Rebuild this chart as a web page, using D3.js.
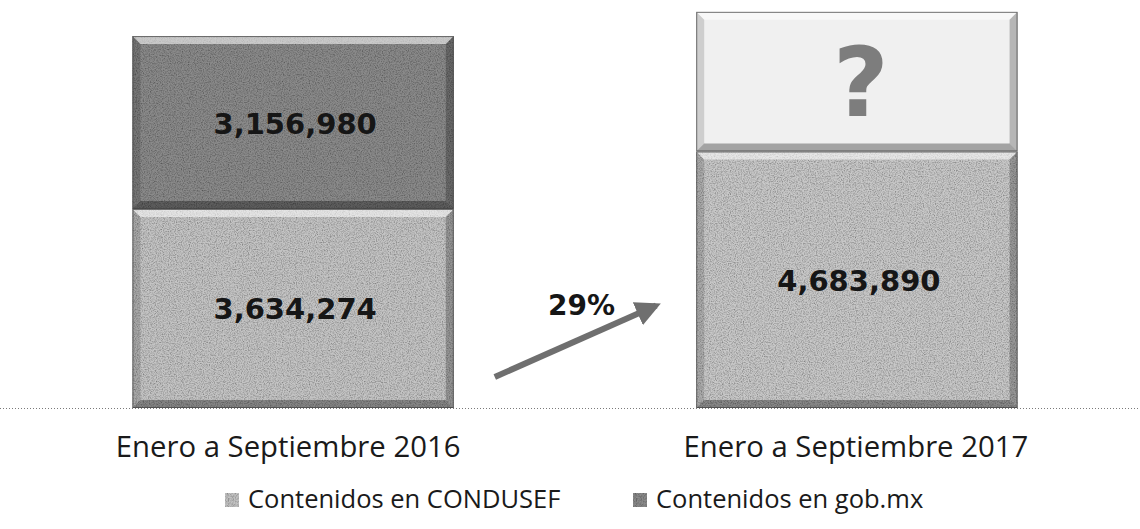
<!DOCTYPE html>
<html>
<head>
<meta charset="utf-8">
<script src="https://cdn.jsdelivr.net/npm/d3@7"></script>
<style>
  body { margin: 0; background: #fff; }
  svg { display: block; }
</style>
</head>
<body>
<div id="chart"></div>
<script>
// ---------------- data ----------------
var periods = ["Enero a Septiembre 2016", "Enero a Septiembre 2017"];
var series = ["Contenidos en CONDUSEF", "Contenidos en gob.mx"];
// bottom segment (CONDUSEF) and top segment (gob.mx); 2017 gob.mx is unknown ("?"), height estimated
var condusef = [3634274, 4683890];
var gobmx = [3156980, 2550000];
var segLabels = [["3,634,274", "4,683,890"], ["3,156,980", "?"]];
var growthLabel = "29%";

var fills = [["#c4c4c4", "#c8c8c8"], ["#8a8a8a", "#f0f0f0"]];
var grainOn = [[true, true], [true, false]];
var legendFill = ["#c2c2c2", "#8a8a8a"];

var W = 1140, H = 529;

var svg = d3.select("#chart").append("svg")
    .attr("width", W)
    .attr("height", H);

// grain texture like the scanned original
var defs = svg.append("defs");
var grain = defs.append("filter").attr("id", "grain")
    .attr("x", 0).attr("y", 0).attr("width", 1).attr("height", 1);
grain.append("feTurbulence").attr("type", "fractalNoise")
    .attr("baseFrequency", 0.85).attr("numOctaves", 2).attr("seed", 3).attr("result", "noise");
grain.append("feColorMatrix").attr("in", "noise").attr("type", "matrix")
    .attr("values", "0 0 0 0 0  0 0 0 0 0  0 0 0 0 0  0 0 0 -1.2 0.75")
    .attr("result", "dots");
grain.append("feComposite").attr("in", "dots").attr("in2", "SourceGraphic").attr("operator", "in").attr("result", "dm");
grain.append("feMerge").selectAll("feMergeNode")
    .data(["SourceGraphic", "dm"]).enter()
    .append("feMergeNode").attr("in", d => d);

// scales
var x = d3.scaleBand()
    .domain(periods)
    .range([5, 1145])
    .paddingInner(0.43)
    .paddingOuter(0.226);

var y = d3.scaleLinear()
    .domain([0, 7450000])
    .range([408, 0]);

// stacked data
var rows = periods.map(function (p, i) {
    return { period: p, CONDUSEF: condusef[i], gob: gobmx[i] };
});
var stack = d3.stack().keys(["CONDUSEF", "gob"])(rows);

// baseline (dotted)
svg.append("line")
    .attr("x1", 0).attr("x2", W)
    .attr("y1", y(0) + 0.5).attr("y2", y(0) + 0.5)
    .attr("stroke", "#7a7a7a")
    .attr("stroke-width", 1)
    .attr("stroke-dasharray", "1,2");

var bev = 8;

stack.forEach(function (layer, li) {
    layer.forEach(function (d, i) {
        var x0 = x(periods[i]), x1 = x0 + x.bandwidth();
        var yt = y(d[1]), yb = y(d[0]);
        var g = svg.append("g");

        g.append("rect")
            .attr("x", x0).attr("y", yt)
            .attr("width", x1 - x0).attr("height", yb - yt)
            .attr("fill", fills[li][i])
            .attr("filter", grainOn[li][i] ? "url(#grain)" : null);

        // bevel edges
        var faces = [
            { pts: [[x0, yt], [x1, yt], [x1 - bev, yt + bev], [x0 + bev, yt + bev]], c: "#fff", o: 0.55 },
            { pts: [[x0, yt], [x0 + bev, yt + bev], [x0 + bev, yb - bev], [x0, yb]], c: "#000", o: 0.14 },
            { pts: [[x1, yt], [x1, yb], [x1 - bev, yb - bev], [x1 - bev, yt + bev]], c: "#000", o: 0.24 },
            { pts: [[x0, yb], [x0 + bev, yb - bev], [x1 - bev, yb - bev], [x1, yb]], c: "#000", o: 0.32 }
        ];
        g.selectAll("polygon").data(faces).enter()
            .append("polygon")
            .attr("points", f => f.pts.map(p => p.join(",")).join(" "))
            .attr("fill", f => f.c)
            .attr("fill-opacity", f => f.o);

        g.append("rect")
            .attr("x", x0 + 0.5).attr("y", yt + 0.5)
            .attr("width", x1 - x0 - 1).attr("height", yb - yt - 1)
            .attr("fill", "none")
            .attr("stroke", "#444")
            .attr("stroke-opacity", 0.75);

        var label = segLabels[li][i];
        var cy = (yt + yb) / 2;
        if (label === "?") {
            g.append("text")
                .attr("x", x0 + x.bandwidth() / 2 + 4)
                .attr("y", cy + 34)
                .attr("text-anchor", "middle")
                .attr("font-family", "DejaVu Sans, sans-serif")
                .attr("font-weight", "bold")
                .attr("font-size", 96)
                .attr("fill", "#7d7d7d")
                .text(label);
        } else {
            g.append("text")
                .attr("x", x0 + x.bandwidth() / 2 + 2)
                .attr("y", cy + 11)
                .attr("text-anchor", "middle")
                .attr("font-family", "DejaVu Sans, sans-serif")
                .attr("font-weight", "bold")
                .attr("font-size", 29)
                .attr("fill", "#161616")
                .text(label);
        }
    });
});

// growth arrow between the bars
var ax0 = x(periods[0]) + x.bandwidth() + 41,
    ax1 = x(periods[1]) - 32,
    ay0 = y(0) - 31,
    ay1 = y(0) - 106;
defs.append("marker").attr("id", "head")
    .attr("viewBox", "0 0 10 10").attr("refX", 8).attr("refY", 5)
    .attr("markerWidth", 4.2).attr("markerHeight", 4.2)
    .attr("orient", "auto")
    .append("path").attr("d", "M0,0 L10,5 L0,10 z").attr("fill", "#6f6f6f");
svg.append("line")
    .attr("x1", ax0).attr("y1", ay0)
    .attr("x2", ax1 - 8).attr("y2", ay1 + 3.5)
    .attr("stroke", "#6f6f6f")
    .attr("stroke-width", 6)
    .attr("marker-end", "url(#head)");

svg.append("text")
    .attr("x", (ax0 + ax1) / 2 + 2)
    .attr("y", ay1 + 13)
    .attr("text-anchor", "middle")
    .attr("font-family", "DejaVu Sans, sans-serif")
    .attr("font-weight", "bold")
    .attr("font-size", 28)
    .attr("fill", "#161616")
    .text(growthLabel);

// category labels
var catShift = [-5, -1];
svg.selectAll(".cat")
    .data(periods)
    .enter()
    .append("text")
    .attr("class", "cat")
    .attr("x", (d, i) => x(d) + x.bandwidth() / 2 + catShift[i])
    .attr("y", 457)
    .attr("text-anchor", "middle")
    .attr("font-family", "Open Sans, sans-serif")
    .attr("font-size", 29.3)
    .attr("fill", "#1a1a1a")
    .text(d => d);

// legend
var legX = [225, 633];
var leg = svg.selectAll(".leg")
    .data(series)
    .enter()
    .append("g")
    .attr("class", "leg")
    .attr("transform", (d, i) => "translate(" + legX[i] + ",493)");
leg.append("rect")
    .attr("width", 14).attr("height", 14)
    .attr("fill", (d, i) => legendFill[i])
    .attr("filter", "url(#grain)");
leg.append("text")
    .attr("x", 23)
    .attr("y", 15)
    .attr("font-family", "Open Sans, sans-serif")
    .attr("font-size", 25.5)
    .attr("fill", "#1a1a1a")
    .text(d => d);
</script>
</body>
</html>
